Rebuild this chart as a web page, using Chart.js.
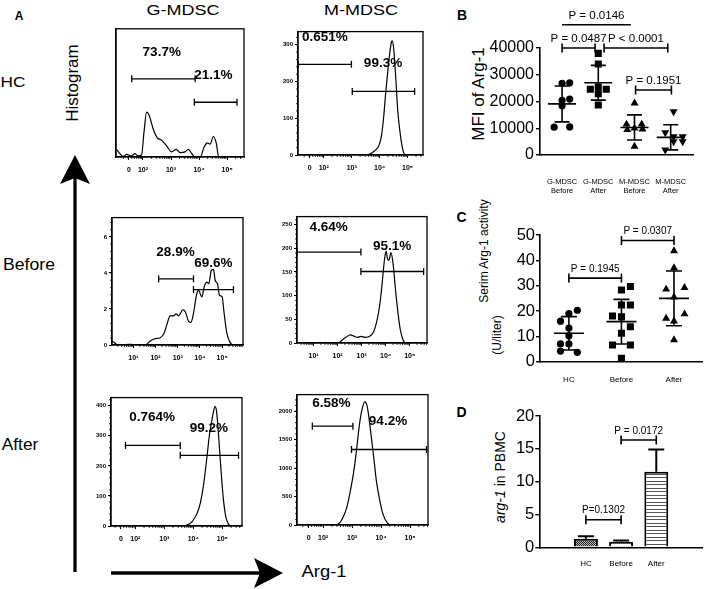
<!DOCTYPE html>
<html>
<head>
<meta charset="utf-8">
<title>Arg-1 in MDSC</title>
<script src="https://cdn.jsdelivr.net/npm/chart.js@4.4.1/dist/chart.umd.min.js"></script>
<style>
  html, body { margin: 0; padding: 0; background: #fff; }
  #fig { position: relative; width: 709px; height: 589px; overflow: hidden; font-family: "Liberation Sans", Arial, sans-serif; color: #000; }
  .lbl { position: absolute; white-space: nowrap; line-height: 1; }
  canvas { position: absolute; }
  svg { position: absolute; left: 0; top: 0; }
</style>
</head>
<body>
<div id="fig">
  <svg width="709" height="589">
    <line x1="75" y1="178" x2="75" y2="572" stroke="#000" stroke-width="3.3"/>
    <polygon points="75,155 90,184 75,178 60,184" fill="#000"/>
    <line x1="111" y1="573" x2="262" y2="573" stroke="#000" stroke-width="3.3"/>
    <polygon points="283,573 254,558 260,573 254,588" fill="#000"/>
  </svg>
  <div class="lbl" style="left:19px;top:16px;font-size:12px;font-weight:bold;transform:translate(-50%,-50%)">A</div>
  <div class="lbl" style="left:183px;top:9px;font-size:15px;transform:translate(-50%,-50%) scaleX(1.2)">G-MDSC</div>
  <div class="lbl" style="left:361px;top:9px;font-size:15px;transform:translate(-50%,-50%) scaleX(1.2)">M-MDSC</div>
  <div class="lbl" style="left:12.5px;top:81px;font-size:15px;transform:translate(-50%,-50%) scaleX(1.15)">HC</div>
  <div class="lbl" style="left:29px;top:265px;font-size:16px;transform:translate(-50%,-50%) scaleX(1.1)">Before</div>
  <div class="lbl" style="left:20px;top:445px;font-size:16px;transform:translate(-50%,-50%) scaleX(1.08)">After</div>
  <div class="lbl" style="left:71.5px;top:83px;font-size:17px;transform:translate(-50%,-50%) rotate(-90deg)">Histogram</div>
  <div class="lbl" style="left:324px;top:572px;font-size:16px;transform:translate(-50%,-50%) scaleX(1.15)">Arg-1</div>

  <div class="lbl" style="left:462px;top:15px;font-size:14px;font-weight:bold;transform:translate(-50%,-50%)">B</div>
  <div class="lbl" style="left:461.5px;top:217px;font-size:14px;font-weight:bold;transform:translate(-50%,-50%)">C</div>
  <div class="lbl" style="left:461.5px;top:412px;font-size:14px;font-weight:bold;transform:translate(-50%,-50%)">D</div>
  <div class="lbl" style="left:478px;top:94px;font-size:17px;transform:translate(-50%,-50%) rotate(-90deg)">MFI of Arg-1</div>
  <div class="lbl" style="left:484px;top:251px;font-size:12px;transform:translate(-50%,-50%) rotate(-90deg)">Serim Arg-1 activity</div>
  <div class="lbl" style="left:497px;top:335px;font-size:12px;transform:translate(-50%,-50%) rotate(-90deg)">(U/liter)</div>
  <div class="lbl" style="left:500px;top:477px;font-size:14px;transform:translate(-50%,-50%) rotate(-90deg)"><i>arg-1</i> in PBMC</div>
</div>
<script>
Chart.defaults.font.family = '"Liberation Sans", Arial, sans-serif';
Chart.defaults.color = '#000';

// tick labels of the flow axes
var xTicksZero = [1.5, 2, 3, 4, 5];
var xLabelsZero = ['0', '10²', '10³', '10⁴', '10⁵'];
var xTicksLog = [1, 2, 3, 4, 5];
var xLabelsLog = ['10¹', '10²', '10³', '10⁴', '10⁵'];

// histogram G-MDSC / HC  (x = decade, y = events)
var gHcX = [1.06, 1.18, 1.30, 1.42, 1.60, 1.71, 1.83, 1.95, 2.04, 2.13, 2.23, 2.37, 2.51, 2.67, 2.85, 3.02, 3.18, 3.32, 3.50, 3.62, 3.74, 3.86, 4.04, 4.18, 4.30, 4.39, 4.51, 4.61, 4.70, 4.99];
var gHcY = [0.6, 0.26, 0.05, 0.2, 0.08, 0.26, 0.08, 0.15, 2.0, 3.5, 3.2, 2.15, 1.5, 1.3, 0.85, 0.4, 0.6, 0.34, 0.4, 0.6, 0.26, 0, 0, 0.78, 1.1, 1.0, 1.6, 1.1, 0, 0];
var gHcGates = [[1.60, 3.86, 6.1], [3.83, 5.35, 4.27]];
var gHcPct = ['73.7%', '21.1%'];
var gHcPctAt = [[2.67, 8.2], [4.51, 6.4]];

// histogram M-MDSC / HC
var mHcX = [1.08, 3.52, 3.70, 3.86, 3.98, 4.07, 4.14, 4.21, 4.30, 4.36, 4.42, 4.45, 4.50, 4.57, 4.65, 4.74, 4.83, 4.93, 5.55];
var mHcY = [0, 0, 5, 14, 27, 55, 100, 164, 236, 277, 307, 311, 291, 218, 118, 55, 14, 0, 0];
var mHcGates = [[1.08, 2.99, 247], [3.02, 5.25, 173]];
var mHcPct = ['0.651%', '99.3%'];
var mHcPctAt = [[2.04, 320], [4.12, 250]];

// histogram G-MDSC / Before
var gBeforeX = [0.04, 0.19, 0.34, 0.87, 1.17, 1.54, 1.76, 1.99, 2.21, 2.39, 2.51, 2.66, 2.81, 2.93, 3.04, 3.23, 3.34, 3.49, 3.59, 3.71, 3.83, 3.93, 4.09, 4.19, 4.31, 4.40, 4.51, 4.61, 4.69, 4.79, 4.88, 5.00, 5.09, 5.21, 5.36, 5.51, 5.89];
var gBeforeY = [0.22, 0.09, 0, 0.04, 0, 0, 0.22, 0.35, 0.4, 0.67, 1.13, 1.62, 1.62, 1.73, 1.62, 1.95, 1.85, 1.31, 1.25, 1.76, 2.67, 3.04, 2.67, 3.22, 3.49, 3.4, 4.13, 4.2, 3.58, 3.4, 2.76, 2.67, 1.76, 0.67, 0.13, 0, 0];
var gBeforeGates = [[2.14, 3.71, 3.67], [3.71, 5.51, 3.07]];
var gBeforePct = ['28.9%', '69.6%'];
var gBeforePctAt = [[2.90, 5.13], [4.61, 4.53]];

// histogram M-MDSC / Before
var mBeforeX = [0.31, 2.04, 2.18, 2.36, 2.53, 2.70, 2.83, 2.97, 3.15, 3.33, 3.50, 3.61, 3.71, 3.81, 3.89, 3.96, 4.02, 4.08, 4.14, 4.22, 4.31, 4.40, 4.50, 4.61, 4.72, 4.86, 5.72];
var mBeforeY = [0, 0, 6, 12.5, 17, 14, 12, 14, 12, 14, 24, 42, 66, 104, 146, 180, 194, 177, 175, 191, 167, 118, 69, 28, 7, 0, 0];
var mBeforeGates = [[0.31, 2.97, 192], [2.97, 5.58, 151]];
var mBeforePct = ['4.64%', '95.1%'];
var mBeforePctAt = [[1.63, 244], [4.27, 205]];

// histogram G-MDSC / After
var gAfterX = [1.16, 3.61, 3.78, 3.95, 4.13, 4.24, 4.36, 4.47, 4.56, 4.64, 4.69, 4.75, 4.80, 4.86, 4.94, 5.03, 5.12, 5.20, 5.32, 5.68];
var gAfterY = [0, 0, 3, 14, 42, 75, 141, 229, 306, 350, 378, 397, 383, 317, 207, 97, 31, 9, 0, 0];
var gAfterGates = [[1.66, 3.55, 268], [3.55, 5.56, 235]];
var gAfterPct = ['0.764%', '99.2%'];
var gAfterPctAt = [[2.58, 361], [4.54, 326]];

// histogram M-MDSC / After
var mAfterX = [1.10, 2.40, 2.58, 2.71, 2.83, 2.94, 3.06, 3.15, 3.24, 3.33, 3.44, 3.50, 3.56, 3.64, 3.75, 3.84, 3.96, 4.07, 4.21, 4.32, 5.62];
var mAfterY = [0, 0, 41, 158, 333, 596, 947, 1298, 1708, 2000, 2164, 2129, 1971, 1649, 1181, 772, 421, 187, 41, 0, 0];
var mAfterGates = [[1.63, 3.03, 1737], [2.98, 5.57, 1327]];
var mAfterPct = ['6.58%', '94.2%'];
var mAfterPctAt = [[2.29, 2146], [4.24, 1825]];

// panel B: MFI of Arg-1
var bCategories = [['G-MDSC', 'Before'], ['G-MDSC', 'After'], ['M-MDSC', 'Before'], ['M-MDSC', 'After']];
var bGBefore = [26800, 27000, 20400, 20900, 18400, 10400, 10500];
var bGAfter = [38000, 34000, 25400, 24600, 24600, 22900, 18700];
var bMBefore = [19400, 11500, 11500, 10000, 9500, 9600, 3200];
var bMAfter = [16200, 8400, 6900, 6900, 5000, 5000, 1900];
var bJitter = [[0, 0.21, 0, 0.21, 0, -0.22, 0.21], [0, 0, 0, -0.22, 0.22, 0, 0], [0, -0.22, 0.2, 0, -0.2, 0.22, 0], [0.08, -0.15, 0.08, 0.33, 0.08, 0.33, -0.15]];
var bMean = [19100, 27000, 10300, 6600];
var bSD = [6700, 6500, 4700, 4700];
var bYTicks = [0, 10000, 20000, 30000, 40000];
var bBrackets = [[0, 1.90, 48700], [0, 0.91, 40000], [1.16, 2.92, 40000], [2.03, 3.02, 24300]];
var bPValues = ['P = 0.0146', 'P = 0.0487', 'P < 0.0001', 'P = 0.1951'];

// panel C: serum Arg-1 activity
var cCategories = ['HC', 'Before', 'After'];
var cHC = [20.3, 19.0, 16.0, 13.3, 10.2, 7.0, 7.0, 4.2, 3.7];
var cBefore = [29.7, 28.3, 22.4, 22.4, 18.0, 17.7, 13.8, 11.2, 6.6, 6.6, 1.3];
var cAfter = [43.7, 37.0, 29.2, 28.6, 25.5, 18.8, 17.1, 16.0, 8.6];
var cJitter = [[0.16, 0, -0.16, 0, 0, -0.16, 0, -0.16, 0.16], [0.17, 0, 0, 0.17, -0.17, 0, 0.17, 0, -0.17, 0.17, 0], [0, 0, 0.2, -0.15, 0, 0.2, -0.15, 0, 0]];
var cMean = [11.2, 15.8, 25.0];
var cSD = [6.6, 8.8, 10.8];
var cYTicks = [0, 10, 20, 30, 40, 50];
var cBrackets = [[0, 1, 33.0], [1, 2, 47.8]];
var cPValues = ['P = 0.1945', 'P = 0.0307'];

// panel D: arg-1 in PBMC
var dCategories = ['HC', 'Before', 'After'];
var dMean = [1.3, 0.85, 11.5];
var dErr = [0.4, 0.2, 3.4];
var dYTicks = [0, 5, 10, 15, 20];
var dBrackets = [[0, 1, 4.2], [1, 2, 16.35]];
var dPValues = ['P=0.1302', 'P = 0.0172'];

// ---------- helpers ----------
var fig = document.getElementById('fig');
var FONT = '"Liberation Sans", Arial, sans-serif';

function makeCanvas(left, top, w, h) {
    var c = document.createElement('canvas');
    c.width = w;
    c.height = h;
    c.style.left = left + 'px';
    c.style.top = top + 'px';
    c.style.width = w + 'px';
    c.style.height = h + 'px';
    fig.appendChild(c);
    return c;
}

var framePlugin = {
    id: 'frame',
    afterDraw: function (chart) {
        var a = chart.chartArea, ctx = chart.ctx;
        ctx.save();
        ctx.strokeStyle = '#000';
        ctx.lineWidth = 1.3;
        ctx.strokeRect(a.left, a.top, a.right - a.left, a.bottom - a.top);
        ctx.restore();
    }
};

// small minor ticks on the flow axes
var minorPlugin = {
    id: 'minor',
    afterDraw: function (chart) {
        var ctx = chart.ctx, x = chart.scales.x, y = chart.scales.y, a = chart.chartArea;
        ctx.save();
        ctx.strokeStyle = '#000';
        ctx.lineWidth = 0.8;
        ctx.beginPath();
        for (var d = 0; d <= 5; d++) {
            for (var k = 2; k <= 9; k++) {
                var v = d + Math.log10(k);
                if (v > x.min && v < x.max) {
                    var px = x.getPixelForValue(v);
                    ctx.moveTo(px, a.bottom);
                    ctx.lineTo(px, a.bottom + 2);
                }
            }
        }
        var yt = y.ticks;
        if (yt.length > 1) {
            var step = (yt[1].value - yt[0].value) / 5;
            for (var v2 = step; v2 < y.max; v2 += step) {
                var py = y.getPixelForValue(v2);
                ctx.moveTo(a.left, py);
                ctx.lineTo(a.left - 2, py);
            }
        }
        ctx.stroke();
        ctx.restore();
    }
};

function textPlugin(items, font, dy) {
    return {
        id: 'txt',
        afterDatasetsDraw: function (chart) {
            var ctx = chart.ctx, x = chart.scales.x, y = chart.scales.y;
            ctx.save();
            ctx.font = font;
            ctx.fillStyle = '#000';
            ctx.textAlign = 'center';
            ctx.textBaseline = 'middle';
            items.forEach(function (it) {
                ctx.fillText(it.text, x.getPixelForValue(it.x), y.getPixelForValue(it.y) + dy);
            });
            ctx.restore();
        }
    };
}

// mean line with SD whiskers
function meanSdPlugin(means, sds, halfMean, halfCap) {
    return {
        id: 'meanSd',
        afterDatasetsDraw: function (chart) {
            var ctx = chart.ctx, x = chart.scales.x, y = chart.scales.y;
            ctx.save();
            ctx.strokeStyle = '#000';
            ctx.lineWidth = 1.6;
            ctx.beginPath();
            means.forEach(function (m, i) {
                var cx = x.getPixelForValue(i);
                var ym = y.getPixelForValue(m), yt = y.getPixelForValue(m + sds[i]), yb = y.getPixelForValue(m - sds[i]);
                ctx.moveTo(cx - halfMean, ym); ctx.lineTo(cx + halfMean, ym);
                ctx.moveTo(cx, yt); ctx.lineTo(cx, yb);
                ctx.moveTo(cx - halfCap, yt); ctx.lineTo(cx + halfCap, yt);
                ctx.moveTo(cx - halfCap, yb); ctx.lineTo(cx + halfCap, yb);
            });
            ctx.stroke();
            ctx.restore();
        }
    };
}

// upper error bar on bars
function errorUpPlugin(means, errs, halfCap) {
    return {
        id: 'errUp',
        afterDatasetsDraw: function (chart) {
            var ctx = chart.ctx, x = chart.scales.x, y = chart.scales.y;
            ctx.save();
            ctx.strokeStyle = '#000';
            ctx.lineWidth = 2;
            ctx.beginPath();
            means.forEach(function (m, i) {
                var cx = x.getPixelForValue(i);
                var y0 = y.getPixelForValue(m), y1 = y.getPixelForValue(m + errs[i]);
                ctx.moveTo(cx, y0); ctx.lineTo(cx, y1);
                ctx.moveTo(cx - halfCap, y1); ctx.lineTo(cx + halfCap, y1);
            });
            ctx.stroke();
            ctx.restore();
        }
    };
}

// horizontal segment with vertical end caps (gates and brackets)
function capLine(from, to, level, cap, width) {
    return {
        type: 'line',
        data: [{ x: from, y: level }, { x: to, y: level }],
        borderColor: '#000',
        borderWidth: width,
        pointStyle: 'line',
        rotation: 90,
        pointRadius: cap,
        pointHoverRadius: cap,
        pointBorderColor: '#000',
        pointBorderWidth: width,
        tension: 0,
        clip: false
    };
}

function histogram(box, curveX, curveY, xRange, yMax, xTicks, xLabels, yTicks, gates, pct, pctAt) {
    var canvas = makeCanvas(box[0] - 30, box[1] - 4, box[2] - box[0] + 36, box[3] - box[1] + 28);
    var sets = [{
        type: 'line',
        data: curveX.map(function (v, i) { return { x: v, y: curveY[i] }; }),
        borderColor: '#000',
        borderWidth: 1.2,
        pointRadius: 0,
        cubicInterpolationMode: 'monotone',
        fill: false
    }];
    gates.forEach(function (g) { sets.push(capLine(g[0], g[1], g[2], 3.5, 1.3)); });
    var notes = pct.map(function (t, i) { return { text: t, x: pctAt[i][0], y: pctAt[i][1] }; });

    new Chart(canvas, {
        type: 'line',
        data: { datasets: sets },
        options: {
            responsive: false,
            animation: false,
            events: [],
            layout: { padding: { top: 4, right: 6, left: 0, bottom: 0 } },
            plugins: { legend: { display: false }, tooltip: { enabled: false } },
            scales: {
                x: {
                    type: 'linear', min: xRange[0], max: xRange[1],
                    afterBuildTicks: function (s) { s.ticks = xTicks.map(function (v) { return { value: v }; }); },
                    afterFit: function (s) { s.height = 24; },
                    ticks: {
                        callback: function (v) { return xLabels[xTicks.indexOf(v)]; },
                        font: { size: 7, weight: 'bold' }, padding: 6, maxRotation: 0, autoSkip: false
                    },
                    grid: { drawOnChartArea: false, tickLength: 3, color: '#000' },
                    border: { color: '#000', width: 1.3 }
                },
                y: {
                    type: 'linear', min: 0, max: yMax,
                    afterBuildTicks: function (s) { s.ticks = yTicks.map(function (v) { return { value: v }; }); },
                    afterFit: function (s) { s.width = 30; },
                    ticks: { display: yTicks.length > 0, font: { size: 6, weight: 'bold' }, padding: 2, callback: function (v) { return String(v); } },
                    grid: { drawOnChartArea: false, tickLength: 3, color: '#000' },
                    border: { color: '#000', width: 1.3 }
                }
            }
        },
        plugins: [framePlugin, minorPlugin, textPlugin(notes, 'bold 13.5px ' + FONT, 0)]
    });
}

function catAxis(min, max, labels, size, padding, height) {
    return {
        type: 'linear', min: min, max: max,
        afterBuildTicks: function (s) { s.ticks = labels.map(function (l, i) { return { value: i }; }); },
        afterFit: function (s) { s.height = height; },
        ticks: {
            callback: function (v) { return labels[v]; },
            font: { size: size, lineHeight: 1.25 }, padding: padding, maxRotation: 0, autoSkip: false
        },
        grid: { display: true, drawOnChartArea: false, drawTicks: false },
        border: { color: '#000', width: 1.6 }
    };
}

function valueAxis(max, ticks, size, padding, width) {
    return {
        type: 'linear', min: 0, max: max,
        afterBuildTicks: function (s) { s.ticks = ticks.map(function (v) { return { value: v }; }); },
        afterFit: function (s) { s.width = width; },
        ticks: { font: { size: size }, padding: padding, callback: function (v) { return String(v); } },
        grid: { drawOnChartArea: false, tickLength: 4, color: '#000', lineWidth: 1.4 },
        border: { color: '#000', width: 1.6 }
    };
}

function bracketNotes(brackets, labels) {
    return brackets.map(function (b, i) { return { text: labels[i], x: (b[0] + b[1]) / 2, y: b[2] }; });
}

// ---------- panel A ----------
histogram([116, 28, 244, 157], gHcX, gHcY, [1.04, 5.6], 10, xTicksZero, xLabelsZero, [], gHcGates, gHcPct, gHcPctAt);
histogram([298, 30, 423, 155], mHcX, mHcY, [1.08, 5.55], 336, xTicksZero, xLabelsZero, [0, 100, 200, 300], mHcGates, mHcPct, mHcPctAt);
histogram([112, 216, 243, 345], gBeforeX, gBeforeY, [0.04, 5.94], 7.07, xTicksLog, xLabelsLog, [0, 2, 4, 6], gBeforeGates, gBeforePct, gBeforePctAt);
histogram([297, 215, 427, 343], mBeforeX, mBeforeY, [0.31, 5.72], 267, xTicksLog, xLabelsLog, [0, 50, 100, 150, 200, 250], mBeforeGates, mBeforePct, mBeforePctAt);
histogram([111, 396, 242, 526], gAfterX, gAfterY, [1.16, 5.68], 427, xTicksZero, xLabelsZero, [0, 100, 200, 300, 400], gAfterGates, gAfterPct, gAfterPctAt);
histogram([297, 393, 428, 525], mAfterX, mAfterY, [1.10, 5.62], 2292, xTicksZero, xLabelsZero, [0, 500, 1000, 1500, 2000], mAfterGates, mAfterPct, mAfterPctAt);

// ---------- panel B ----------
var bGroups = [bGBefore, bGAfter, bMBefore, bMAfter];
var bShapes = ['circle', 'rect', 'triangle', 'triangle'];
var bTurn = [0, 0, 0, 180];
var bSize = [3.6, 5, 4.6, 4.6];
var bSets = bGroups.map(function (vals, i) {
    return {
        type: 'scatter',
        data: vals.map(function (v, k) { return { x: i + bJitter[i][k], y: v }; }),
        pointStyle: bShapes[i], rotation: bTurn[i], pointRadius: bSize[i], pointHoverRadius: bSize[i],
        backgroundColor: '#000', borderColor: '#000', borderWidth: 0
    };
});
bBrackets.forEach(function (b) { bSets.push(capLine(b[0], b[1], b[2], 4.5, 1.6)); });

new Chart(makeCanvas(440, 0, 269, 200), {
    type: 'scatter',
    data: { datasets: bSets },
    options: {
        responsive: false, animation: false, events: [],
        layout: { padding: { top: 48, right: 2, left: 0, bottom: 0 } },
        plugins: { legend: { display: false }, tooltip: { enabled: false } },
        scales: {
            x: catAxis(-0.61, 3.62, bCategories, 7.5, 22, 45),
            y: valueAxis(40000, bYTicks, 16, 2, 100)
        }
    },
    plugins: [meanSdPlugin(bMean, bSD, 14, 7.5), textPlugin(bracketNotes(bBrackets, bPValues), '11.5px ' + FONT, -9)]
});

// ---------- panel C ----------
var cGroups = [cHC, cBefore, cAfter];
var cShapes = ['circle', 'rect', 'triangle'];
var cSize = [3.6, 5, 4.6];
var cSets = cGroups.map(function (vals, i) {
    return {
        type: 'scatter',
        data: vals.map(function (v, k) { return { x: i + cJitter[i][k], y: v }; }),
        pointStyle: cShapes[i], pointRadius: cSize[i], pointHoverRadius: cSize[i],
        backgroundColor: '#000', borderColor: '#000', borderWidth: 0
    };
});
cBrackets.forEach(function (b) { cSets.push(capLine(b[0], b[1], b[2], 4.5, 1.6)); });

new Chart(makeCanvas(440, 190, 269, 210), {
    type: 'scatter',
    data: { datasets: cSets },
    options: {
        responsive: false, animation: false, events: [],
        layout: { padding: { top: 45, right: 1, left: 0, bottom: 0 } },
        plugins: { legend: { display: false }, tooltip: { enabled: false } },
        scales: {
            x: catAxis(-0.55, 2.55, cCategories, 8, 13, 38.3),
            y: valueAxis(50, cYTicks, 16.5, 1, 100)
        }
    },
    plugins: [meanSdPlugin(cMean, cSD, 15, 8), textPlugin(bracketNotes(cBrackets, cPValues), '10px ' + FONT, -9)]
});

// ---------- panel D ----------
function pattern(w, h, paint) {
    var c = document.createElement('canvas');
    c.width = w;
    c.height = h;
    var g = c.getContext('2d');
    paint(g);
    return g.createPattern(c, 'repeat');
}
var hatchHC = pattern(4, 4, function (g) {
    g.fillStyle = '#b5b5b5'; g.fillRect(0, 0, 4, 4);
    g.fillStyle = '#262626';
    [[0, 0], [2, 0], [1, 1], [3, 1], [0, 2], [2, 2], [1, 3], [3, 3]].forEach(function (p) { g.fillRect(p[0], p[1], 1, 1); });
});
var hatchBefore = pattern(4, 4, function (g) {
    g.fillStyle = '#fff'; g.fillRect(0, 0, 4, 4);
    g.fillStyle = '#444';
    [[0, 0], [2, 0], [1, 1], [3, 1]].forEach(function (p) { g.fillRect(p[0], p[1], 1, 1); });
});
var hatchAfter = pattern(4, 7, function (g) {
    g.fillStyle = '#fff'; g.fillRect(0, 0, 4, 7);
    g.fillStyle = '#555'; g.fillRect(0, 0, 4, 1); g.fillRect(0, 3, 4, 1);
});

var dSets = [{
    type: 'bar',
    data: dMean.map(function (v, i) { return { x: i, y: v }; }),
    backgroundColor: [hatchHC, hatchBefore, hatchAfter],
    borderColor: '#000', borderWidth: 2, borderSkipped: 'bottom',
    barPercentage: 0.68, categoryPercentage: 1
}];
dBrackets.forEach(function (b) { dSets.push(capLine(b[0], b[1], b[2], 4.5, 1.6)); });

new Chart(makeCanvas(440, 390, 269, 199), {
    type: 'bar',
    data: { datasets: dSets },
    options: {
        responsive: false, animation: false, events: [],
        layout: { padding: { top: 26, right: 1, left: 0, bottom: 0 } },
        plugins: { legend: { display: false }, tooltip: { enabled: false } },
        scales: {
            x: catAxis(-0.55, 2.55, dCategories, 8, 11, 41.7),
            y: valueAxis(20, dYTicks, 16.5, 1, 99.3)
        }
    },
    plugins: [errorUpPlugin(dMean, dErr, 8), textPlugin(bracketNotes(dBrackets, dPValues), '10px ' + FONT, -9)]
});
</script>
</body>
</html>
